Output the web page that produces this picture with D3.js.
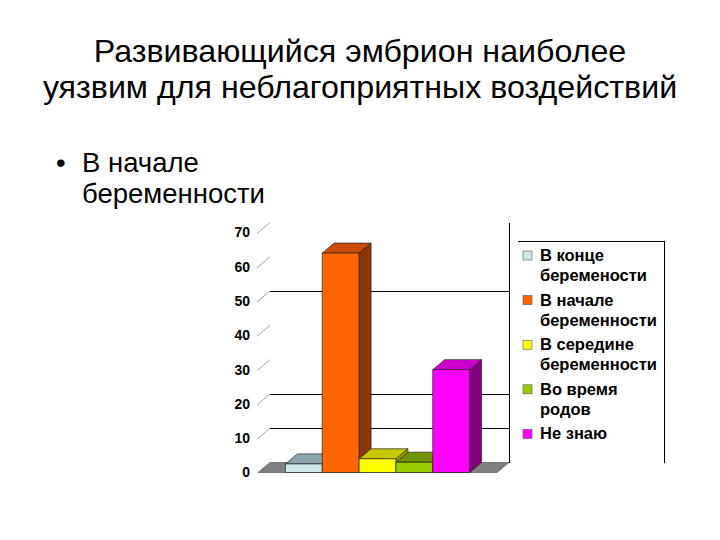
<!DOCTYPE html>
<html>
<head>
<meta charset="utf-8">
<script src="https://cdn.jsdelivr.net/npm/d3@7"></script>
<style>
  body { margin: 0; background: #fff; }
  svg { display: block; }
</style>
</head>
<body>
<svg width="720" height="540"></svg>
<script>
// chart data
const series = ["В конце беремености", "В начале беременности", "В середине беременности", "Во время родов", "Не знаю"];
const legendLines = [["В конце", "беремености"], ["В начале", "беременности"], ["В середине", "беременности"], ["Во время", "родов"], ["Не знаю"]];
const values = [2.5, 64, 4, 3, 30];
const frontColors = ["#cce8ea", "#ff6600", "#ffff00", "#99cc00", "#ff00ff"];
const topColors = ["#8aa6ae", "#cc4a0a", "#c8c800", "#6e9400", "#cc00cc"];
const sideColors = ["#6e8a92", "#8b3608", "#a0a000", "#5a7a00", "#80007f"];
const yTicks = [0, 10, 20, 30, 40, 50, 60, 70];
const gridValues = [10, 20, 50];

const titleLines = ["Развивающийся эмбрион наиболее", "уязвим для неблагоприятных воздействий"];
const bulletLines = ["В начале", "беременности"];

const svg = d3.select("svg");
const font = "'Liberation Sans', Arial, sans-serif";

// title
svg.append("g")
    .attr("font-family", font)
    .attr("font-size", 32.2)
    .attr("fill", "#000")
    .attr("text-anchor", "middle")
  .selectAll("text")
  .data(titleLines)
  .join("text")
    .attr("x", 360)
    .attr("y", (d, i) => 62 + i * 36)
    .text(d => d);

// bullet
const bul = svg.append("g")
    .attr("font-family", font)
    .attr("font-size", 27.5)
    .attr("fill", "#000");
bul.append("text").attr("x", 56).attr("y", 172).text("•");
bul.selectAll("text.line")
  .data(bulletLines)
  .join("text")
    .attr("class", "line")
    .attr("x", 82)
    .attr("y", (d, i) => 172 + i * 31)
    .text(d => d);

// 3d chart
const dx = 12, dy = 10;
const x = d3.scaleBand().domain(series).range([258, 497]).paddingInner(0).paddingOuter(0.745);
const y = d3.scaleLinear().domain([0, 70]).range([472.5, 232.5]);
const x0 = 258, x1 = 497;

const chart = svg.append("g");

// floor
chart.append("polygon")
    .attr("points", [[x0, y(0)], [x1, y(0)], [x1 + dx, y(0) - dy], [x0 + dx, y(0) - dy]].join(" "))
    .attr("fill", "#808080")
    .attr("stroke", "#444")
    .attr("stroke-width", 0.6);

// back wall gridlines
chart.append("g")
    .attr("shape-rendering", "crispEdges")
  .selectAll("line")
  .data(gridValues)
  .join("line")
    .attr("x1", x0 + dx)
    .attr("x2", x1 + dx)
    .attr("y1", d => Math.round(y(d) - dy) + 0.5)
    .attr("y2", d => Math.round(y(d) - dy) + 0.5)
    .attr("stroke", "#000")
    .attr("stroke-width", 1);

// right wall edge
chart.append("line")
    .attr("shape-rendering", "crispEdges")
    .attr("x1", x1 + dx + 0.5).attr("x2", x1 + dx + 0.5)
    .attr("y1", y(0) - dy).attr("y2", y(70) - dy)
    .attr("stroke", "#000")
    .attr("stroke-width", 1);

// y axis labels
const axis = chart.append("g")
    .attr("transform", `translate(252,0)`)
    .call(d3.axisLeft(y).tickValues(yTicks).tickSize(0).tickPadding(2));
axis.select(".domain").remove();
axis.selectAll("text")
    .attr("font-family", font)
    .attr("font-size", 14)
    .attr("font-weight", "bold")
    .attr("fill", "#000");

// diagonal tick marks on left wall
chart.append("g")
  .selectAll("line")
  .data(yTicks)
  .join("line")
    .attr("x1", x0 - 1)
    .attr("y1", d => y(d) + 1)
    .attr("x2", x0 + dx)
    .attr("y2", d => y(d) - dy)
    .attr("stroke", "#8a8a8a")
    .attr("stroke-width", 0.8);

// bars, left to right
const bars = chart.append("g")
    .attr("stroke", "#222")
    .attr("stroke-width", 0.7)
    .attr("stroke-linejoin", "round");

series.forEach((s, i) => {
  const bx = x(s), w = x.bandwidth();
  const top = y(values[i]), base = y(0);
  const g = bars.append("g");
  g.append("polygon")
      .attr("points", [[bx + w, top], [bx + w + dx, top - dy], [bx + w + dx, base - dy], [bx + w, base]].join(" "))
      .attr("fill", sideColors[i]);
  g.append("polygon")
      .attr("points", [[bx, top], [bx + dx, top - dy], [bx + w + dx, top - dy], [bx + w, top]].join(" "))
      .attr("fill", topColors[i]);
  g.append("rect")
      .attr("x", bx)
      .attr("y", top)
      .attr("width", w)
      .attr("height", base - top)
      .attr("fill", frontColors[i]);
});

// legend
const lg = svg.append("g");
lg.append("path")
    .attr("d", "M518,241.5H664.5V463")
    .attr("fill", "none")
    .attr("stroke", "#000")
    .attr("stroke-width", 1)
    .attr("shape-rendering", "crispEdges");

const item = lg.selectAll("g.item")
  .data(series)
  .join("g")
    .attr("class", "item")
    .attr("transform", (d, i) => `translate(523,${251 + i * 44.6})`);

item.append("rect")
    .attr("width", 9)
    .attr("height", 9)
    .attr("fill", (d, i) => frontColors[i])
    .attr("stroke", "#555")
    .attr("stroke-width", 0.6);

item.append("text")
    .attr("font-family", font)
    .attr("font-size", 16.5)
    .attr("font-weight", "bold")
    .attr("fill", "#000")
  .selectAll("tspan")
  .data((d, i) => legendLines[i])
  .join("tspan")
    .attr("x", 17)
    .attr("y", (d, j) => 10 + j * 20)
    .text(d => d);
</script>
</body>
</html>
